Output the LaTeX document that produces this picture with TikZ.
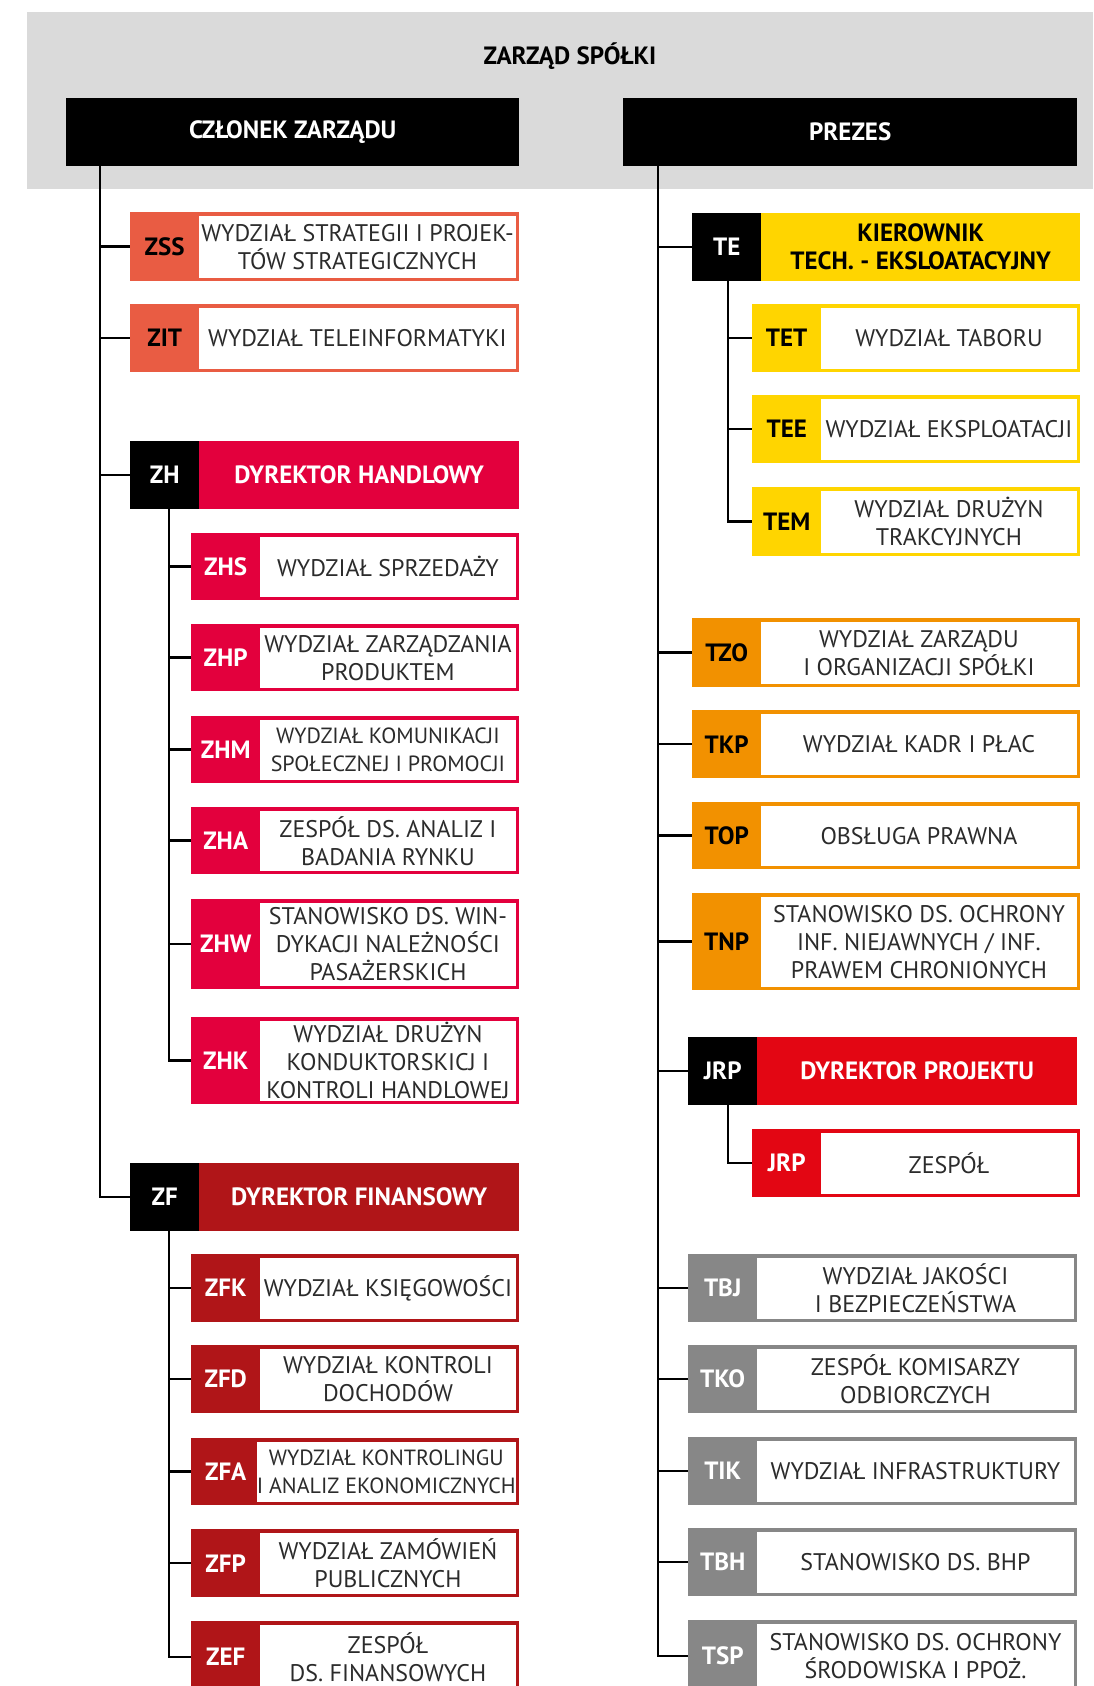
\documentclass[tikz,border=0pt]{standalone}
\usepackage{fontspec}
\setmainfont{PT Sans}
\definecolor{bggray}{HTML}{DADADA}
\definecolor{zred}{HTML}{E95C43}
\definecolor{hcrimson}{HTML}{E3003D}
\definecolor{fred}{HTML}{B01518}
\definecolor{tyellow}{HTML}{FFD500}
\definecolor{torange}{HTML}{F29100}
\definecolor{jred}{HTML}{E30613}
\definecolor{sgray}{HTML}{878787}
\definecolor{txtgray}{HTML}{2B2B2B}
\newcommand\smtxt{\fontsize{22}{28}\selectfont}
\begin{document}
\begin{tikzpicture}[x=1pt,y=-1pt,font=\fontsize{24}{28}\selectfont,
		frame/.style={inner sep=0pt,anchor=north west},
		codelbl/.style={inner sep=0pt,anchor=west,font=\fontsize{25}{28}\selectfont\bfseries},
		desc/.style={inner sep=0pt,anchor=east,fill=white,text=txtgray,align=center},
		head/.style={inner sep=0pt,anchor=east,align=center,font=\fontsize{25}{28}\selectfont\bfseries},
		link/.style={line width=2.5pt}]
	\useasboundingbox (0,0) rectangle (1093,1686);
	\clip (0,0) rectangle (1093,1686);
	\fill[bggray] (27,12) rectangle (1093,189);
	\node[font=\fontsize{25}{28}\selectfont\bfseries] (zarz) at (570,56) {ZARZĄD SPÓŁKI};
	\node[frame,fill=black,text=white,minimum width=453,minimum height=68,font=\fontsize{25}{28}\selectfont\bfseries] (czl) at (66,98) {CZŁONEK ZARZĄDU};
	\node[frame,fill=black,text=white,minimum width=454,minimum height=68,font=\fontsize{25}{28}\selectfont\bfseries] (prz) at (623,98) {PREZES};
	% dyrektorzy
	\foreach \nm/\cd/\cc/\tc/\xx/\yy/\ww/\txt in {zh/ZH/hcrimson/white/130/441/389/{DYREKTOR HANDLOWY},
			zf/ZF/fred/white/130/1163/389/{DYREKTOR FINANSOWY},
			te/TE/tyellow/black/692/213/388/{KIEROWNIK\\TECH. - EKSLOATACYJNY},
			jrp/JRP/jred/white/688/1037/389/{DYREKTOR PROJEKTU}} {
		\node[frame,fill=\cc,minimum width=\ww,minimum height=68] (\nm) at (\xx,\yy) {};
		\node[codelbl,fill=black,text=white,minimum width=69,minimum height=68] (\nm-c) at (\nm.west) {\cd};
		\node[head,text=\tc,minimum width=\ww-69] (\nm-t) at (\nm.east) {\txt};
	}
	% komorki
	\foreach \nm/\cd/\cc/\tc/\xx/\yy/\ww/\hh/\txt in {zss/ZSS/zred/black/130/212/389/69/{WYDZIAŁ STRATEGII I PROJEK-\\TÓW STRATEGICZNYCH},
			zit/ZIT/zred/black/130/304/389/68/{WYDZIAŁ TELEINFORMATYKI},
			zhs/ZHS/hcrimson/white/191/533/328/67/{WYDZIAŁ SPRZEDAŻY},
			zhp/ZHP/hcrimson/white/191/624/328/67/{WYDZIAŁ ZARZĄDZANIA\\PRODUKTEM},
			zhm/ZHM/hcrimson/white/191/716/328/67/{\smtxt WYDZIAŁ KOMUNIKACJI\\\smtxt SPOŁECZNEJ I PROMOCJI},
			zha/ZHA/hcrimson/white/191/807/328/67/{ZESPÓŁ DS. ANALIZ I\\BADANIA RYNKU},
			zhw/ZHW/hcrimson/white/191/899/328/90/{STANOWISKO DS. WIN-\\DYKACJI NALEŻNOŚCI\\PASAŻERSKICH},
			zhk/ZHK/hcrimson/white/191/1017/328/87/{WYDZIAŁ DRUŻYN\\KONDUKTORSKICJ I\\KONTROLI HANDLOWEJ},
			zfk/ZFK/fred/white/191/1254/328/68/{WYDZIAŁ KSIĘGOWOŚCI},
			zfd/ZFD/fred/white/191/1345/328/68/{WYDZIAŁ KONTROLI\\DOCHODÓW},
			zfa/ZFA/fred/white/191/1438/328/67/{\smtxt WYDZIAŁ KONTROLINGU\\\smtxt I ANALIZ EKONOMICZNYCH},
			zfp/ZFP/fred/white/191/1529/328/68/{WYDZIAŁ ZAMÓWIEŃ\\PUBLICZNYCH},
			zef/ZEF/fred/white/191/1621/328/72/{ZESPÓŁ\\DS. FINANSOWYCH},
			tet/TET/tyellow/black/752/304/328/68/{WYDZIAŁ TABORU},
			tee/TEE/tyellow/black/752/395/328/68/{WYDZIAŁ EKSPLOATACJI},
			tem/TEM/tyellow/black/752/487/328/69/{WYDZIAŁ DRUŻYN\\TRAKCYJNYCH},
			tzo/TZO/torange/black/692/618/388/69/{WYDZIAŁ ZARZĄDU\\I ORGANIZACJI SPÓŁKI},
			tkp/TKP/torange/black/692/710/388/68/{WYDZIAŁ KADR I PŁAC},
			tpw/TOP/torange/black/692/802/388/67/{OBSŁUGA PRAWNA},
			tnp/TNP/torange/black/692/893/388/97/{STANOWISKO DS. OCHRONY\\INF. NIEJAWNYCH / INF.\\PRAWEM CHRONIONYCH},
			jrpz/JRP/jred/white/752/1129/328/68/{ZESPÓŁ},
			tbj/TBJ/sgray/white/688/1254/389/68/{WYDZIAŁ JAKOŚCI\\I BEZPIECZEŃSTWA},
			tko/TKO/sgray/white/688/1345/389/68/{ZESPÓŁ KOMISARZY\\ODBIORCZYCH},
			tik/TIK/sgray/white/688/1437/389/68/{WYDZIAŁ INFRASTRUKTURY},
			tbh/TBH/sgray/white/688/1528/389/68/{STANOWISKO DS. BHP},
			tsp/TSP/sgray/white/688/1620/389/72/{STANOWISKO DS. OCHRONY\\ŚRODOWISKA I PPOŻ.}} {
		\node[frame,fill=\cc,minimum width=\ww,minimum height=\hh] (\nm) at (\xx,\yy) {};
		\node[codelbl,text=\tc,minimum width=69] (\nm-c) at (\nm.west) {\cd};
		\node[desc,minimum width=\ww-72.5,minimum height=\hh-7] (\nm-t) at ([xshift=-3.5]\nm.east) {\txt};
	}
	% polaczenia
	\foreach \b in {zss,zit,zh,zf} \draw[link] ([xshift=34]czl.south west) |- (\b.west);
	\foreach \b in {zhs,zhp,zhm,zha,zhw,zhk} \draw[link] ([xshift=39]zh.south west) |- (\b.west);
	\foreach \b in {zfk,zfd,zfa,zfp,zef} \draw[link] ([xshift=39]zf.south west) |- (\b.west);
	\foreach \b in {te,tzo,tkp,tpw,tnp,jrp,tbj,tko,tik,tbh,tsp} \draw[link] ([xshift=35]prz.south west) |- (\b.west);
	\foreach \b in {tet,tee,tem} \draw[link] ([xshift=36]te.south west) |- (\b.west);
	\draw[link] ([xshift=40]jrp.south west) |- (jrpz.west);
\end{tikzpicture}
\end{document}
